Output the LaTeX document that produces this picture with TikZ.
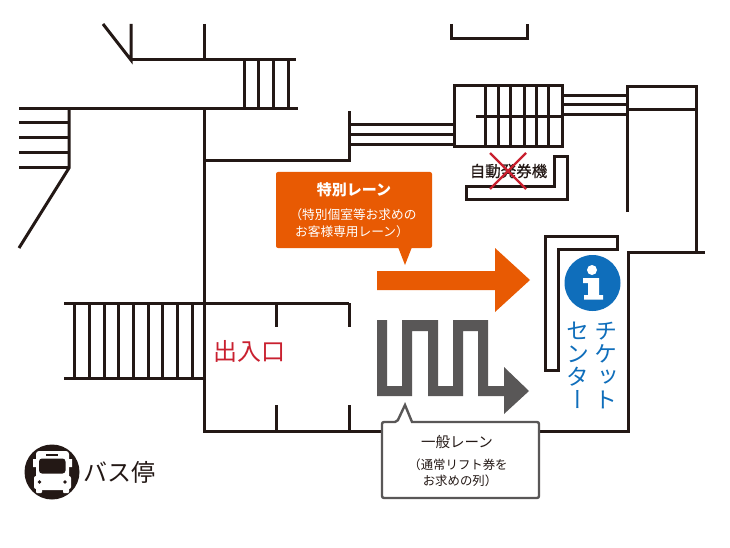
\documentclass[tikz,border=0pt]{standalone}
\usepackage{fontspec}
\setmainfont{Noto Sans CJK JP}
\newfontfamily\vjp[RawFeature={+vert}]{Noto Sans CJK JP}
\newfontfamily\medjp[FakeBold=0.4]{Noto Sans CJK JP}
\definecolor{ink}{HTML}{231815}
\definecolor{lane}{HTML}{E85A03}
\definecolor{lanegrey}{HTML}{595757}
\definecolor{infoblue}{HTML}{0F6EBB}
\definecolor{redtext}{HTML}{C9202F}
\tikzset{
 wall/.style={draw=ink,line width=3pt,line cap=butt,line join=miter},
 thin wall/.style={draw=ink,line width=3pt},
 label/.style={inner sep=0pt,align=center,text=ink},
}
\newcommand{\fs}[1]{\fontsize{#1}{#1}\selectfont}
\begin{document}
\begin{tikzpicture}[x=1pt,y=-1pt]
\useasboundingbox (0,0) rectangle (730,548);
\fill[white] (0,0) rectangle (730,548);
% walls upper left
\draw[wall] (103,24) -- (131,60) -- (131,24);
\draw[wall] (204,24) -- (204,60);
\draw[wall] (131,60) -- (296,60);
\foreach \x in {244,258,273,288} \draw[thin wall] (\x,60) -- (\x,109);
\draw[wall] (19,109) -- (298,109);
\draw[wall] (69,109) -- (69,168) -- (19,248);
\foreach \y in {123,138,153,168} \draw[thin wall] (19,\y) -- (69,\y);
\draw[wall] (204,109) -- (204,431) -- (628,431) -- (628,252) -- (705,252);
\draw[wall] (204,161) -- (349,161) -- (349,111);
\foreach \y in {125,135,145} \draw[thin wall] (349,\y) -- (454,\y);
% top bracket
\draw[wall] (451,24) -- (451,39) -- (527,39) -- (527,24);
% stair block
\draw[wall] (454,86) rectangle (562,147);
\foreach \x in {485,498,510,524,536,548} \draw[thin wall] (\x,86) -- (\x,147);
\draw[thin wall] (476,117) -- (562,117);
\foreach \y in {96,105,115} \draw[thin wall] (562,\y) -- (627,\y);
\draw[wall] (627,212) -- (627,87) -- (696,87) -- (696,252);
\draw[wall] (627,110) -- (696,110);
% kiosks
\draw[wall] (466,186) -- (554,186) -- (554,157) -- (567,157) -- (567,199) -- (466,199) -- cycle;
\draw[wall,fill=white] (545,236) -- (617,236) -- (617,249) -- (558,249) -- (558,370) -- (545,370) -- cycle;
\node[label,font=\fs{15.5}\medjp] (ticketmachine) at (508.5,171) {自動発券機};
\draw[draw=redtext,line width=2.4pt] (490,153) -- (526,189) (526,153) -- (490,189);
% entrance
\draw[wall] (64,303) -- (349,303);
\draw[wall] (64,378) -- (204,378);
\foreach \x in {74,89,104,118.5,133,148,162.5,177,192} \draw[thin wall] (\x,303) -- (\x,378);
\foreach \x in {276,349} {\draw[thin wall] (\x,303) -- (\x,327); \draw[thin wall] (\x,405) -- (\x,431);}
\node[label,text=redtext,font=\fs{24}] (entrance) at (249,351) {出入口};
% orange
\fill[lane,rounded corners=2pt] (276,172) rectangle (432,248);
\fill[lane] (398,247) -- (412,247) -- (405,265) -- cycle;
\node[label,text=white,font=\fs{15}\bfseries] (sp) at (354,190) {特別レーン};
\node[label,text=white,font=\fs{12.7}] (sp2) at (353,215) {（特別個室等お求めの};
\node[label,text=white,font=\fs{12.7}] (sp3) at (352,232) {お客様専用レーン）};
\fill[lane] (377,271) -- (495,271) -- (495,248) -- (530,280) -- (495,312) -- (495,290) -- (377,290) -- cycle;
% grey lane
\fill[lanegrey] (377,320) -- (387,320) -- (387,386) -- (402,386) -- (402,320) -- (438,320) -- (438,386) -- (453,386) -- (453,320) -- (488,320) -- (488,386) -- (504,386) -- (504,367) -- (529,391) -- (504,414) -- (504,396) -- (478,396) -- (478,331) -- (463,331) -- (463,396) -- (428,396) -- (428,331) -- (412,331) -- (412,396) -- (377,396) -- cycle;
\draw[draw=lanegrey,line width=2.4pt,fill=white,rounded corners=2pt] (382,422) -- (397,422) [sharp corners] -- (405,405) -- (412,422) [rounded corners=2pt] -- (539,422) -- (539,498) -- (382,498) -- cycle;
\node[label,font=\fs{14.5}] (gen) at (457,442) {一般レーン};
\node[label,font=\fs{12.4}] (gen2) at (458,465) {（通常リフト券を};
\node[label,font=\fs{12.4}] (gen3) at (460,481) {お求めの列）};
% info
\fill[infoblue] (592.5,283) circle (28);
\fill[white] (592,270) circle (5);
\fill[white] (583,278) -- (599,278) -- (599,295) -- (603,295) -- (603,299.5) -- (584,299.5) -- (584,295) -- (588,295) -- (588,283) -- (583,283) -- cycle;
\node[label,text=infoblue,font=\fs{23}\vjp,align=center,text width=24pt] (tk1) at (606,365.5) {チ\\[0pt]ケ\\[0pt]ッ\\[0pt]ト};
\node[label,text=infoblue,font=\fs{23}\vjp,align=center,text width=24pt] (tk2) at (578,365.5) {セ\\[0pt]ン\\[0pt]タ\\[0pt]ー};
% bus
\fill[ink] (52,472) circle (27.5);
\fill[white,rounded corners=3pt] (36,451) rectangle (69,490);
\fill[white] (33,459) rectangle (36,467) (69,459) rectangle (72,467);
\fill[white,rounded corners=2pt] (34,476) rectangle (71,489);
\fill[white,rounded corners=1pt] (36,485) rectangle (42,493) (63,485) rectangle (69,493);
\fill[ink,rounded corners=3pt] (39,458.5) rectangle (65.5,473.5);
\fill[ink] (46,454) rectangle (58,455.5);
\fill[ink] (39.5,482) circle (1.9) (65,482) circle (1.9);
\node[label,font=\fs{24}] (bus) at (119,472) {バス停};
\end{tikzpicture}
\end{document}
